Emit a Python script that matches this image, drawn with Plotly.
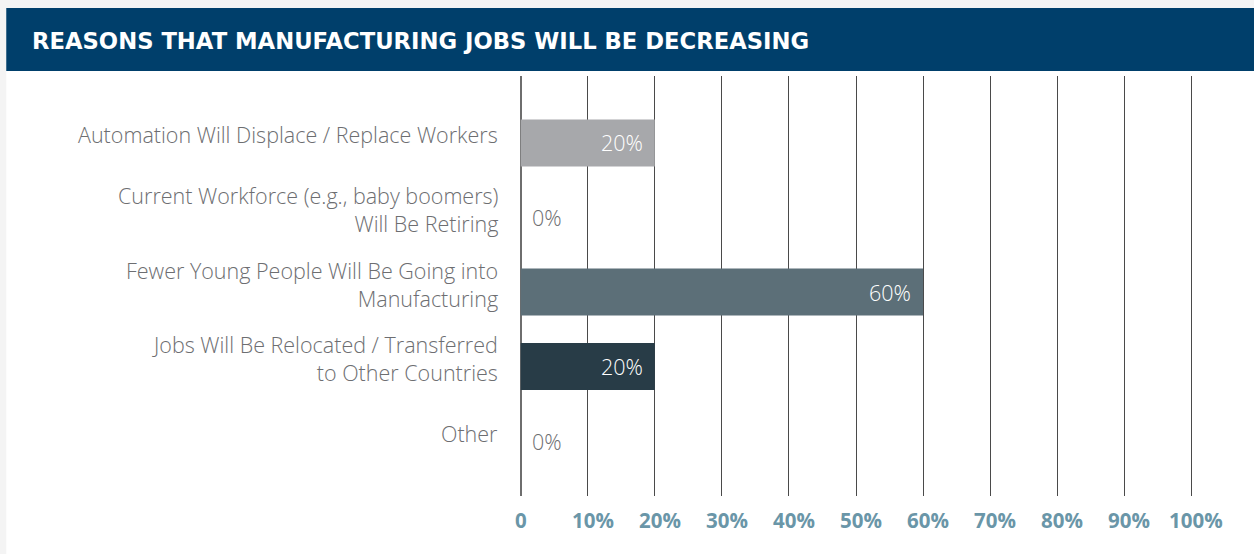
import plotly.graph_objects as go

# Survey responses: reasons manufacturing jobs will be decreasing
categories = [
    "Automation Will Displace / Replace Workers",
    "Current Workforce (e.g., baby boomers)<br>Will Be Retiring",
    "Fewer Young People Will Be Going into<br>Manufacturing",
    "Jobs Will Be Relocated / Transferred<br>to Other Countries",
    "Other",
]
values = [20, 0, 60, 20, 0]
bar_colors = ["#a7a8ab", "#a7a8ab", "#5c6f78", "#283c47", "#a7a8ab"]
tick_vals = [0, 10, 20, 30, 40, 50, 60, 70, 80, 90, 100]
tick_text = ["0", "10%", "20%", "30%", "40%", "50%", "60%", "70%", "80%", "90%", "100%"]
title_text = "REASONS THAT MANUFACTURING JOBS WILL BE DECREASING"

W, H = 1254, 554
PX_PER_PCT = 6.7
L = 521 - PX_PER_PCT
R = W - (1191 + PX_PER_PCT)
T, B = 76, 58
PW, PH = W - L - R, H - T - B


def px_x(px):
    """Figure pixel column -> paper x."""
    return (px - L) / PW


def px_y(py):
    """Figure pixel row (from top) -> paper y."""
    return (H - B - py) / PH


ypos = list(range(len(categories)))

fig = go.Figure()
fig.add_trace(go.Bar(
    x=values,
    y=ypos,
    orientation="h",
    marker=dict(color=bar_colors, line=dict(width=0)),
    width=0.63,
    hoverinfo="skip",
))

FONT = "Open Sans"
label_font = dict(family=FONT, size=21.5, color="#6d6e71", weight=300)

annotations = []
# category labels to the left of the plot
for i, c in enumerate(categories):
    annotations.append(dict(
        x=px_x(499), xref="paper", y=i, yref="y", text=c, showarrow=False,
        xanchor="right", yanchor="middle", align="right", yshift=8, borderpad=0,
        font=label_font,
    ))
# value labels
for i, v in enumerate(values):
    if v > 0:
        annotations.append(dict(
            x=v, xref="x", y=i, yref="y", text=f"{v}%", showarrow=False,
            xanchor="right", yanchor="middle", xshift=-10,
            font=dict(family=FONT, size=21.5, color="#ffffff", weight=300),
        ))
    else:
        annotations.append(dict(
            x=v, xref="x", y=i, yref="y", text=f"{v}%", showarrow=False,
            xanchor="left", yanchor="middle", xshift=9,
            font=label_font,
        ))
# x tick labels, set slightly right of their gridlines
for tv, tt in zip(tick_vals, tick_text):
    annotations.append(dict(
        x=tv, xref="x", y=px_y(520), yref="paper", text=f"<b>{tt}</b>", showarrow=False,
        xanchor="center", yanchor="middle", xshift=5 if tv else 0,
        font=dict(family=FONT, size=20.5, color="#6a96a8"),
    ))
# header title
annotations.append(dict(
    x=px_x(31), xref="paper", y=px_y(41), yref="paper", xanchor="left", yanchor="middle",
    text=f"<b>{title_text}</b>", showarrow=False,
    font=dict(family="DejaVu Sans", size=22.7, color="#ffffff"),
))

shapes = [
    # white card
    dict(type="rect", xref="paper", yref="paper", x0=px_x(7), x1=px_x(W), y0=px_y(H), y1=px_y(8),
         fillcolor="#ffffff", line=dict(width=0), layer="below"),
    # header band
    dict(type="rect", xref="paper", yref="paper", x0=px_x(7), x1=px_x(W), y0=px_y(71), y1=px_y(8),
         fillcolor="#003f6b", line=dict(width=0), layer="below"),
]

fig.update_layout(
    width=W, height=H,
    margin=dict(l=L, r=R, t=T, b=B, pad=0),
    paper_bgcolor="#f4f4f4",
    plot_bgcolor="rgba(0,0,0,0)",
    showlegend=False,
    annotations=annotations,
    shapes=shapes,
    xaxis=dict(
        range=[-1, 101], tickvals=tick_vals, showticklabels=False,
        showgrid=True, gridcolor="#4a4a4a", gridwidth=1,
        zeroline=True, zerolinecolor="#6e6e6e", zerolinewidth=1.5,
        showline=False, ticks="", fixedrange=True,
    ),
    yaxis=dict(
        range=[4.737, -0.898], showticklabels=False, showgrid=False,
        zeroline=False, showline=False, ticks="", fixedrange=True,
    ),
)

fig.write_html("out.html")
